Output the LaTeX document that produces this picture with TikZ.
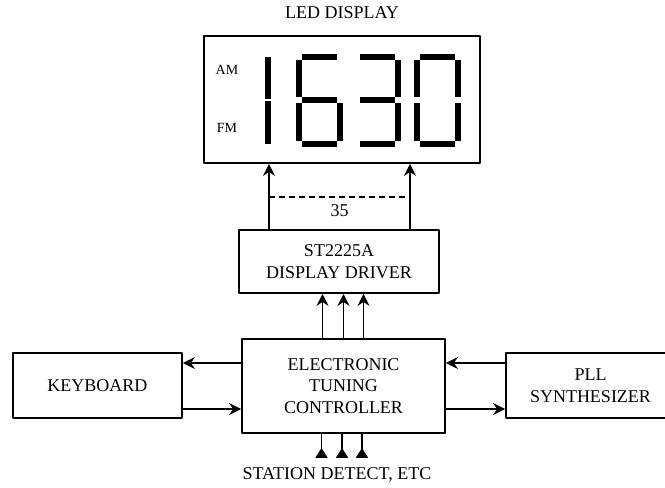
\documentclass[tikz,border=0pt]{standalone}
\usepackage{fontspec}
\setmainfont{Liberation Serif}
\usetikzlibrary{arrows.meta}
\tikzset{blk/.style={draw, line width=0.9pt, align=center, inner sep=1pt},
	small/.style={font=\fontsize{7}{8}\selectfont},
	arr/.style={-{Stealth[length=6pt,width=6pt,inset=2pt]}}}
\begin{document}
\begin{tikzpicture}[x=0.5pt, y=-0.5pt, font=\fontsize{9}{10.8}\selectfont, line join=round, line width=0.9pt]
	\useasboundingbox (0,0) rectangle (665,488);
	\node[blk, minimum width=138pt, minimum height=63.5pt] (led) at (342,99.5) {};
	\node (ledname) at (342,13) {LED DISPLAY};
	\node[small] (am) at (227,70) {AM};
	\node[small] (fm) at (227,128) {FM};
	\foreach \dx/\segs in {224/{41/57/47/99,41/101/47/144},
		296/{6/54/41/60,0/60/6/97,6/97/41/103,0/103/6/141,6/141/41/147,41/103/47/141},
		354/{6/54/41/60,41/60/47/97,6/97/41/103,41/103/47/141,6/141/41/147},
		414/{6/54/41/60,41/60/47/97,41/103/47/141,6/141/41/147,0/103/6/141,0/60/6/97}}
	\foreach \xa/\ya/\xb/\yb in \segs
	\fill (\dx+\xa,\ya) rectangle (\dx+\xb,\yb);
	\node[blk, minimum width=100pt, minimum height=31.5pt] (drv) at (339,261.5) {ST2225A\\DISPLAY DRIVER};
	\node[blk, minimum width=101.5pt, minimum height=47pt] (ctl) at (343.5,386) {ELECTRONIC\\TUNING\\CONTROLLER};
	\node[blk, minimum width=84.5pt, minimum height=32.5pt] (kbd) at (97.5,385.5) {KEYBOARD};
	\node[blk, minimum width=84.5pt, minimum height=32.5pt] (pll) at (590.5,385.5) {PLL\\SYNTHESIZER};
	\node (stn) at (337,475) {STATION DETECT, ETC};
	\foreach \dx in {-35,35.5}
	\draw[arr] ([xshift=\dx pt]drv.north) -- ([xshift=\dx pt]drv.north |- led.south);
	\coordinate (dl) at (269,197);
	\coordinate (dr) at (410,197);
	\draw[dash pattern=on 3pt off 2pt] (dl) -- (dr) node[midway, below] {35};
	\foreach \dx in {-10.5,0,10}
	\draw[arr] ([xshift=\dx pt]ctl.north) -- ([xshift=\dx pt]ctl.north |- drv.south);
	\foreach \dx in {-11,-0.75,9.25}
	\draw[{Triangle[reversed,length=5pt,width=6pt]}-] ([xshift=\dx pt, yshift=-12pt]ctl.south) -- ([xshift=\dx pt]ctl.south);
	\draw[arr] ([yshift=11.5pt]ctl.west) -- ([yshift=11.5pt]ctl.west -| kbd.east);
	\draw[arr] ([yshift=-11.5pt]ctl.west -| kbd.east) -- ([yshift=-11.5pt]ctl.west);
	\draw[arr] ([yshift=11.5pt]ctl.east -| pll.west) -- ([yshift=11.5pt]ctl.east);
	\draw[arr] ([yshift=-11.5pt]ctl.east) -- ([yshift=-11.5pt]ctl.east -| pll.west);
\end{tikzpicture}
\end{document}
